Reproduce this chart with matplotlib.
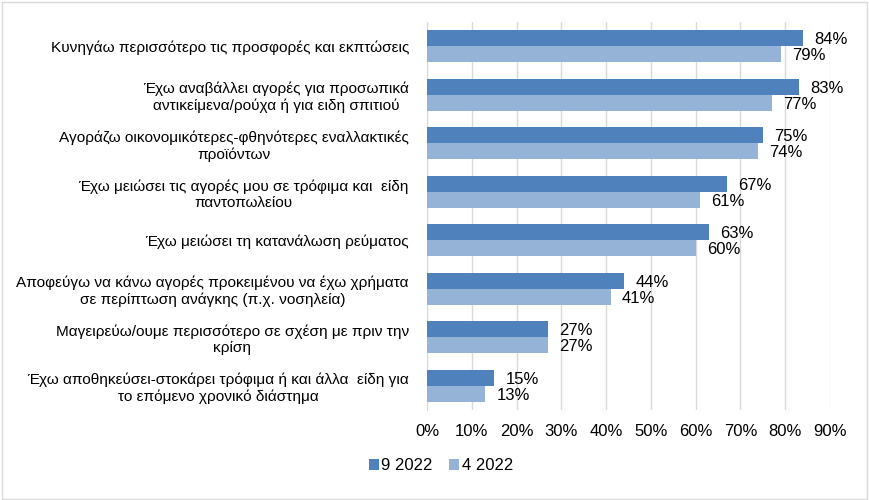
import matplotlib

matplotlib.use("Agg")
import matplotlib.pyplot as plt
import numpy as np
from matplotlib.patches import Rectangle

plt.rcParams["font.family"] = ["Liberation Sans", "DejaVu Sans"]

categories = [
    "Κυνηγάω περισσότερο τις προσφορές και εκπτώσεις",
    "Έχω αναβάλλει αγορές για προσωπικά\nαντικείμενα/ρούχα ή για ειδη σπιτιού",
    "Αγοράζω οικονομικότερες-φθηνότερες εναλλακτικές\nπροϊόντων",
    "Έχω μειώσει τις αγορές μου σε τρόφιμα και  είδη\nπαντοπωλείου",
    "Έχω μειώσει τη κατανάλωση ρεύματος",
    "Αποφεύγω να κάνω αγορές προκειμένου να έχω χρήματα\nσε περίπτωση ανάγκης (π.χ. νοσηλεία)",
    "Μαγειρεύω/ουμε περισσότερο σε σχέση με πριν την\nκρίση",
    "Έχω αποθηκεύσει-στοκάρει τρόφιμα ή και άλλα  είδη για\nτο επόμενο χρονικό διάστημα",
]
sep_2022 = [84, 83, 75, 67, 63, 44, 27, 15]
apr_2022 = [79, 77, 74, 61, 60, 41, 27, 13]
series_names = ["9 2022", "4 2022"]
xticks = [0, 10, 20, 30, 40, 50, 60, 70, 80, 90]

dark = "#4F81BD"
light = "#95B3D7"

fig = plt.figure(figsize=(8.69, 5.0), dpi=100)
ax = fig.add_axes([427 / 869, 90 / 500, 403 / 869, 388 / 500])

y = np.arange(len(categories))
h = 0.33
b1 = ax.barh(y - h / 2, sep_2022, height=h, color=dark, label=series_names[0], zorder=3)
b2 = ax.barh(y + h / 2, apr_2022, height=h, color=light, label=series_names[1], zorder=3)

for bars, vals in [(b1, sep_2022), (b2, apr_2022)]:
    for bar, v in zip(bars, vals):
        ax.text(v + 2.5, bar.get_y() + bar.get_height() / 2 + 0.03, f"{v}%",
                va="center", ha="left", fontsize=12)

ax.set_xlim(0, 90)
ax.set_ylim(len(categories) - 0.5, -0.5)
ax.set_xticks(xticks)
ax.set_xticklabels([f"{t}%" for t in xticks], fontsize=12)
ax.set_yticks(y)
ax.set_yticklabels(categories, fontsize=11.1, ha="right", multialignment="center")
ax.tick_params(axis="y", length=0, pad=13)
ax.tick_params(axis="x", length=0, pad=10)
ax.grid(axis="x", color="#D9D9D9", linewidth=1, zorder=0)
for side in ["top", "right", "bottom"]:
    ax.spines[side].set_visible(False)
ax.spines["left"].set_color("#D9D9D9")

fig.legend(handles=[b1, b2], labels=series_names, loc="center", bbox_to_anchor=(441 / 869, 1 - 466 / 500),
           ncol=2, frameon=False, fontsize=12, handlelength=0.6, handleheight=0.6,
           handletextpad=0.15, columnspacing=1.0)

fig.patches.append(Rectangle((0.002, 0.003), 0.996, 0.994, transform=fig.transFigure,
                             fill=False, edgecolor="#D9D9D9", linewidth=1))

fig.savefig("out.png", dpi=100)
